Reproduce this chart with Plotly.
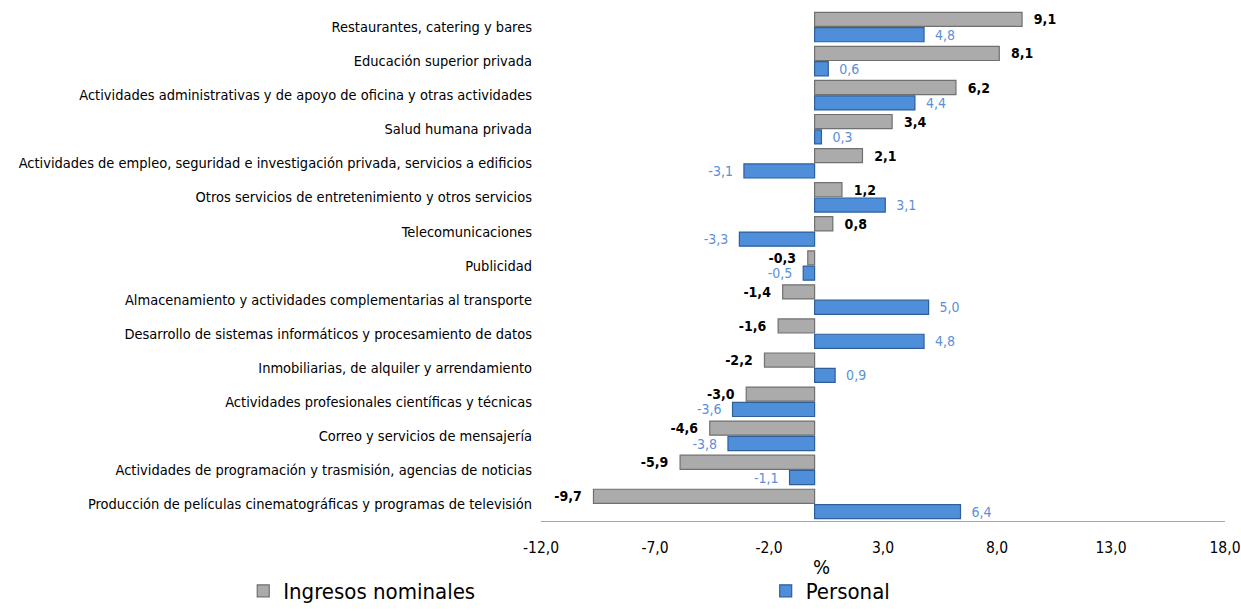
import plotly.graph_objects as go

categories = [
    "Restaurantes, catering y bares",
    "Educación superior privada",
    "Actividades administrativas y de apoyo de oficina y otras actividades",
    "Salud humana privada",
    "Actividades de empleo, seguridad e investigación privada, servicios a edificios",
    "Otros servicios de entretenimiento y otros servicios",
    "Telecomunicaciones",
    "Publicidad",
    "Almacenamiento y actividades complementarias al transporte",
    "Desarrollo de sistemas informáticos y procesamiento de datos",
    "Inmobiliarias, de alquiler y arrendamiento",
    "Actividades profesionales científicas y técnicas",
    "Correo y servicios de mensajería",
    "Actividades de programación y trasmisión, agencias de noticias",
    "Producción de películas cinematográficas y programas de televisión",
]
ingresos = [9.1, 8.1, 6.2, 3.4, 2.1, 1.2, 0.8, -0.3, -1.4, -1.6, -2.2, -3.0, -4.6, -5.9, -9.7]
personal = [4.8, 0.6, 4.4, 0.3, -3.1, 3.1, -3.3, -0.5, 5.0, 4.8, 0.9, -3.6, -3.8, -1.1, 6.4]
x_ticks = [-12, -7, -2, 3, 8, 13, 18]
x_title = "%"


def fmt(v):
    return f"{v:.1f}".replace(".", ",")


def label(v):
    pad = "\u00a0\u00a0"
    return pad + fmt(v) if v >= 0 else fmt(v) + pad


FONT = "Liberation Sans Narrow, Arial Narrow, DejaVu Sans Condensed, sans-serif"

fig = go.Figure()
fig.add_trace(go.Bar(
    y=categories, x=ingresos, orientation="h", name="Ingresos nominales",
    marker=dict(color="#ababab", line=dict(color="#707070", width=1.2)),
    text=[label(v) for v in ingresos], textposition="outside", constraintext="none",
    textfont=dict(family=FONT, size=14, color="#000000", weight="bold"),
    cliponaxis=False, legend="legend",
))
fig.add_trace(go.Bar(
    y=categories, x=personal, orientation="h", name="Personal",
    marker=dict(color="#4f8fda", line=dict(color="#2d5f9a", width=1.2)),
    text=[label(v) for v in personal], textposition="outside", constraintext="none",
    textfont=dict(family=FONT, size=14, color="#5b8fd8"),
    cliponaxis=False, legend="legend2",
))

legend_common = dict(
    orientation="h", xref="container", yref="container",
    yanchor="bottom", xanchor="left", y=-0.015,
    font=dict(family=FONT, size=22, color="#000000"),
    bgcolor="rgba(0,0,0,0)",
)

fig.update_layout(
    width=1241, height=612,
    barmode="group", bargap=0.1, bargroupgap=0.08,
    paper_bgcolor="white", plot_bgcolor="white",
    margin=dict(l=541, r=16, t=10, b=91),
    font=dict(family=FONT, size=14.5, color="#000000"),
    showlegend=True,
    legend=dict(**legend_common, x=0.196),
    legend2=dict(**legend_common, x=0.617),
    xaxis=dict(
        range=[-12.001, 18.001], tickvals=x_ticks, ticktext=[fmt(v) for v in x_ticks],
        ticklabeloverflow="allow", automargin=False,
        showgrid=False, zeroline=False,
        showline=True, linecolor="#a6a6a6", linewidth=1,
        ticks="", ticklabelstandoff=12, tickfont=dict(family=FONT, size=15.5),
    ),
    yaxis=dict(
        autorange="reversed", showgrid=False, zeroline=False, showline=False,
        automargin=False,
        ticks="", ticklabelstandoff=8, tickfont=dict(family=FONT, size=14.5),
    ),
    annotations=[dict(
        text=x_title, xref="paper", yref="paper", x=0.41, y=0,
        xanchor="center", yanchor="middle", yshift=-46, showarrow=False,
        font=dict(family=FONT, size=20, color="#000000"),
    )],
)

fig.write_html(
    "out.html",
    config={"displayModeBar": False},
    post_script="document.body.style.margin='0';document.body.style.overflow='hidden';",
)
